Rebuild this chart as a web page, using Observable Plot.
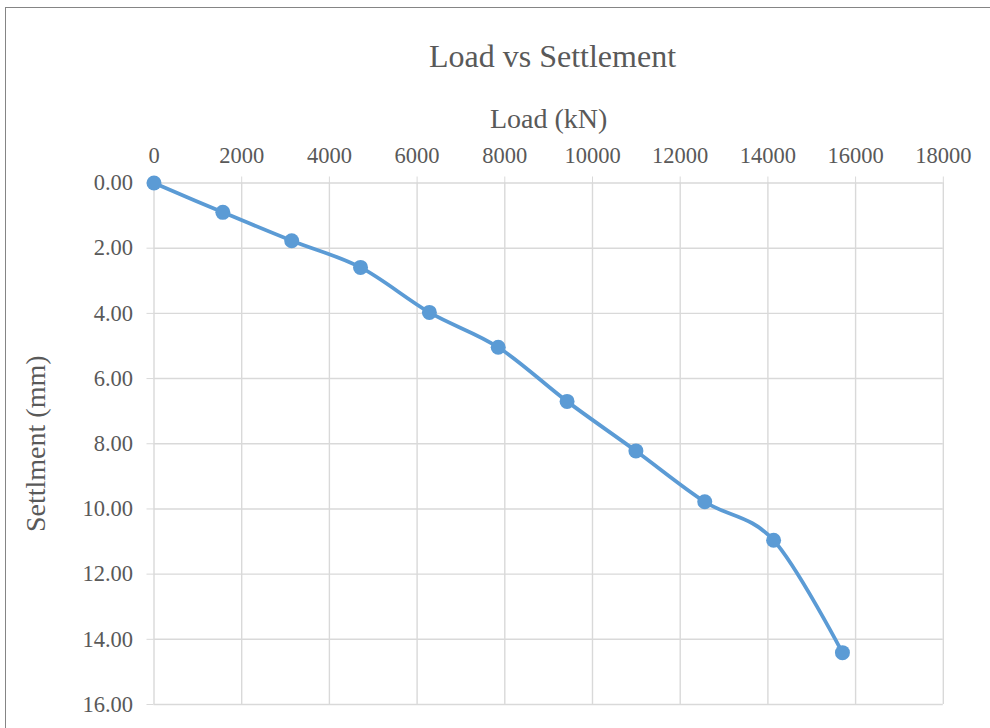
<!DOCTYPE html>
<html>
<head>
<meta charset="utf-8">
<script src="https://cdn.jsdelivr.net/npm/d3@7"></script>
<script src="https://cdn.jsdelivr.net/npm/@observablehq/plot@0.6"></script>
<style>
  body { margin: 0; background: #ffffff; }
  #chart {
    position: relative; width: 990px; height: 728px; overflow: hidden;
    font-family: "Liberation Serif", "Times New Roman", serif; color: #595959;
  }
  #frame {
    position: absolute; left: 5px; top: 7px; width: 1200px; height: 900px;
    border: 1.6px solid #858585; box-sizing: border-box;
  }
  #title {
    position: absolute; left: 0; top: 40px; width: 1105px;
    text-align: center; font-size: 32px; line-height: 32px; color: #595959;
  }
  #plot { position: absolute; left: 0; top: 0; }
  #plot svg g[aria-label="x-axis tick"],
  #plot svg g[aria-label="y-axis tick"] { stroke: #d9d9d9; }
</style>
</head>
<body>
<div id="chart">
  <div id="frame"></div>
  <div id="title">Load vs Settlement</div>
  <div id="plot"></div>
</div>
<script>
// Pile load test readings
const loads = [0, 1570, 3140, 4710, 6280, 7850, 9420, 10990, 12560, 14130, 15700]; // kN
const settlements = [0, 0.90, 1.77, 2.59, 3.97, 5.04, 6.70, 8.22, 9.78, 10.96, 14.41]; // mm

// Axis ticks
const loadTicks = [0, 2000, 4000, 6000, 8000, 10000, 12000, 14000, 16000, 18000];
const settlementTicks = [0, 2, 4, 6, 8, 10, 12, 14, 16];

const xTitle = "Load (kN)";
const yTitle = "Settlment (mm)";

const rows = loads.map((load, i) => ({load, settlement: settlements[i]}));

const blue = "#5b9bd5";
const grid = "#d9d9d9";
const ink = "#595959";

const chart = Plot.plot({
  width: 990,
  height: 728,
  marginTop: 182.5,
  marginLeft: 153.5,
  marginRight: 47.2,
  marginBottom: 24,
  style: {fontFamily: '"Liberation Serif", "Times New Roman", serif', color: ink, background: "transparent"},
  x: {domain: [0, 18000]},
  // settlement grows downward from the load axis
  y: {domain: [0, 16], reverse: true},
  marks: [
    Plot.gridX(loadTicks, {stroke: grid, strokeOpacity: 1, strokeWidth: 1.4}),
    Plot.gridY(settlementTicks, {stroke: grid, strokeOpacity: 1, strokeWidth: 1.4}),
    Plot.axisX(loadTicks, {
      anchor: "top", tickSize: 7, tickPadding: 13, fontSize: 22.5,
      tickFormat: d3.format("d"), label: null, fill: ink
    }),
    Plot.axisY(settlementTicks, {
      anchor: "left", tickSize: 7, tickPadding: 14, fontSize: 22.5,
      tickFormat: d3.format(".2f"), label: null, fill: ink
    }),
    Plot.text([xTitle], {
      frameAnchor: "top", dy: -55.2, lineAnchor: "bottom",
      fontSize: 28, fill: ink
    }),
    Plot.text([yTitle], {
      frameAnchor: "left", dx: -109.5, rotate: -90, lineAnchor: "bottom",
      textAnchor: "middle", fontSize: 28, fill: ink
    }),
    Plot.line(rows, {x: "load", y: "settlement", stroke: blue, strokeWidth: 3.8, curve: "cardinal"}),
    Plot.dot(rows, {x: "load", y: "settlement", r: 7.5, fill: blue, stroke: "none"})
  ]
});

document.getElementById("plot").appendChild(chart);
</script>
</body>
</html>
